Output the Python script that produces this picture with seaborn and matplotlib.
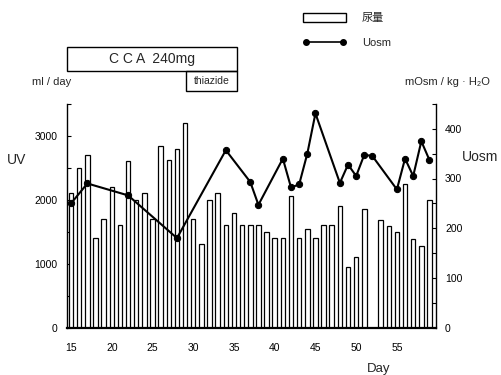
import matplotlib
matplotlib.use("Agg")
import matplotlib.pyplot as plt
from matplotlib.patches import Rectangle, Patch
from matplotlib.lines import Line2D
from matplotlib.ticker import MultipleLocator
import seaborn as sns
import pandas as pd

# ---- data ----
uv_days = list(range(15, 36)) + list(range(36, 52)) + list(range(53, 60))
uv_vals = [2100, 2500, 2700, 1400, 1700, 2200, 1600, 2600, 2000, 2100,
           1700, 2850, 2620, 2800, 3200, 1700, 1300, 2000, 2100, 1600, 1800,
           1600, 1600, 1600, 1500, 1400, 1400, 2060, 1400, 1550, 1400, 1600,
           1600, 1900, 950, 1100, 1850,
           1680, 1590, 1490, 2250, 1380, 1280, 2000]
uosm_days = [15, 17, 22, 28, 34, 37, 38, 41, 42, 43, 44, 45, 48, 49, 50, 51,
             52, 55, 56, 57, 58, 59]
uosm_vals = [250, 290, 266, 180, 357, 293, 247, 340, 282, 288, 350, 431,
             291, 328, 305, 348, 345, 278, 340, 305, 375, 337]
x_ticks = [15, 20, 25, 30, 35, 40, 45, 50, 55]
uv_ticks = [0, 1000, 2000, 3000]
uosm_ticks = [0, 100, 200, 300, 400]

uv_df = pd.DataFrame({"day": uv_days, "uv": uv_vals})
uo_df = pd.DataFrame({"day": uosm_days, "uosm": uosm_vals})

sns.set_theme(style="white")
plt.rcParams["font.family"] = ["Liberation Sans", "Noto Sans CJK JP", "DejaVu Sans"]
plt.rcParams["axes.unicode_minus"] = False

W, H = 502, 375
fig = plt.figure(figsize=(W / 100, H / 100), dpi=100)
L, R, B, T = 67, 436, 327.5, 104
ax = fig.add_axes([L / W, 1 - B / H, (R - L) / W, (B - T) / H])

sns.barplot(data=uv_df, x="day", y="uv", native_scale=True, width=0.55,
            color="white", edgecolor="black", linewidth=0.9, saturation=1,
            errorbar=None, ax=ax)
ax.set_xlim(14.5, 59.8)
ax.set_ylim(0, 3500)
ax.set_xticks(x_ticks)
ax.set_xticklabels([str(t) for t in x_ticks])
ax.set_yticks(uv_ticks)
ax.yaxis.set_minor_locator(MultipleLocator(500))
ax.set_xlabel("")
ax.set_ylabel("")

ax2 = ax.twinx()
sns.lineplot(data=uo_df, x="day", y="uosm", color="black", marker="o",
             markersize=4.5, markeredgecolor="black", linewidth=1.5, ax=ax2)
ax2.set_ylim(0, 450)
ax2.set_yticks(uosm_ticks)
ax2.yaxis.set_minor_locator(MultipleLocator(50))
ax2.set_xlim(14.5, 59.8)
ax2.set_xlabel("")
ax2.set_ylabel("")

for a in (ax, ax2):
    a.spines["top"].set_visible(False)
    for s in a.spines.values():
        s.set_color("black")
        s.set_linewidth(1.0)
ax.spines["right"].set_visible(False)
ax.spines["bottom"].set_linewidth(1.6)
ax2.spines["left"].set_visible(False)
ax2.spines["bottom"].set_visible(False)

ax.tick_params(axis="x", length=0, pad=11, labelsize=7.5, colors="black")
ax.tick_params(axis="y", which="both", direction="in", left=True, length=3,
               width=0.8, pad=7, labelsize=7.5, colors="black")
ax2.tick_params(axis="y", which="both", direction="in", right=True, length=3,
                width=0.8, pad=6.5, labelsize=7.5, colors="black")

def fx(px):
    return px / W

def fy(py):
    return 1 - py / H

fig.text(fx(32), fy(82), "ml / day", ha="left", va="center", fontsize=8)
fig.text(fx(490), fy(82), "mOsm / kg · H₂O", ha="right", va="center", fontsize=8)
fig.text(fx(17), fy(160), "UV", ha="center", va="center", fontsize=10)
fig.text(fx(480), fy(157), "Uosm", ha="center", va="center", fontsize=10)
fig.text(fx(379), fy(369), "Day", ha="center", va="center", fontsize=9.5)

fig.add_artist(Rectangle((fx(67), fy(71)), 170 / W, 24 / H,
                         transform=fig.transFigure, fill=False, lw=1.0,
                         edgecolor="black"))
fig.text(fx(152), fy(59), "C C A  240mg", ha="center", va="center", fontsize=10)
fig.add_artist(Rectangle((fx(186), fy(91)), 51 / W, 20 / H,
                         transform=fig.transFigure, fill=False, lw=1.0,
                         edgecolor="black"))
fig.text(fx(211.5), fy(81), "thiazide", ha="center", va="center", fontsize=7.5)

handles = [Patch(facecolor="white", edgecolor="black", linewidth=1.0),
           Line2D([], [], color="black", marker="o", markersize=4, linewidth=1.2)]
fig.legend(handles, ["尿量", "Uosm"], loc="upper left",
           bbox_to_anchor=(fx(303), fy(13)), frameon=False, fontsize=8,
           handlelength=3.9, handleheight=0.8, labelspacing=1.3, numpoints=2,
           handletextpad=1.4, borderaxespad=0, borderpad=0)

fig.savefig("out.png", dpi=100)
